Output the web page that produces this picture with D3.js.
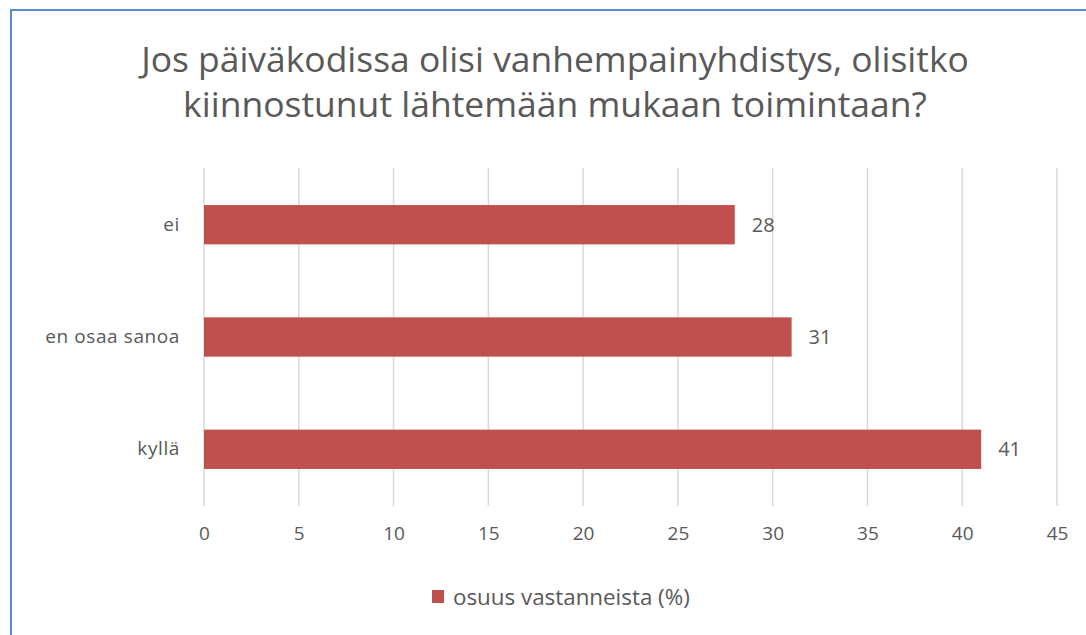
<!DOCTYPE html>
<html>
<head>
<meta charset="utf-8">
<script src="https://cdn.jsdelivr.net/npm/d3@7"></script>
<style>
  body { margin: 0; background: #fff; }
  svg { display: block; font-family: "Open Sans", "Liberation Sans", sans-serif; }
</style>
</head>
<body>
<svg id="canvas" width="1086" height="635"></svg>
<script>
// chart data
let titleLines = ['Jos päiväkodissa olisi vanhempainyhdistys, olisitko', 'kiinnostunut lähtemään mukaan toimintaan?'];
let categories = ['ei', 'en osaa sanoa', 'kyllä'];
let values = [28, 31, 41];
let ticks = [0, 5, 10, 15, 20, 25, 30, 35, 40, 45];
let seriesName = 'osuus vastanneista (%)';

let canvas = d3.select('#canvas');

let textColor = '#595959';
let barColor = '#C0504D';
let fontFamily = '"Open Sans", "Liberation Sans", sans-serif';

// shrink/grow a text node's font size so it spans the given width
let fitWidth = (sel, base, width) => {
    sel.attr('font-size', base);
    let w = sel.node().getComputedTextLength();
    sel.attr('font-size', base * width / w);
};

// frame
canvas.append('rect')
    .attr('x', 11).attr('y', 10)
    .attr('width', 1200).attr('height', 800)
    .attr('fill', 'none')
    .attr('stroke', '#5B8BD0')
    .attr('stroke-width', 2);

// title
let titleWidths = [828, 744];
titleLines.forEach((line, i) => {
    let t = canvas.append('text')
        .attr('x', 555)
        .attr('y', 72 + i * 45)
        .attr('text-anchor', 'middle')
        .attr('fill', textColor)
        .text(line);
    fitWidth(t, 30, titleWidths[i]);
});

let x = d3.scaleLinear()
    .domain([0, 45])
    .range([204, 1057]);

let y = d3.scaleBand()
    .domain(categories)
    .range([168, 506])
    .paddingInner(0.65)
    .paddingOuter(0.33);

// gridlines
canvas.append('g')
    .selectAll('line')
    .data(ticks)
    .enter()
    .append('line')
    .attr('x1', (d) => x(d)).attr('x2', (d) => x(d))
    .attr('y1', 168).attr('y2', 506)
    .attr('stroke', '#D9D9D9')
    .attr('stroke-width', 1.5);

// x axis tick labels
let xAxis = d3.axisBottom(x).tickValues(ticks).tickSize(0).tickPadding(0);
let gx = canvas.append('g')
    .attr('transform', 'translate(0, 526)')
    .call(xAxis);
gx.select('.domain').remove();
gx.selectAll('text')
    .attr('fill', textColor)
    .attr('font-size', 19)
    .attr('font-family', fontFamily);

// category labels
let yAxis = d3.axisLeft(y).tickSize(0).tickPadding(24);
let gy = canvas.append('g')
    .attr('transform', 'translate(204, 0)')
    .call(yAxis);
gy.select('.domain').remove();
gy.selectAll('text')
    .attr('fill', textColor)
    .attr('font-size', 19)
    .attr('letter-spacing', 0.6)
    .attr('font-family', fontFamily);

// bars
canvas.append('g')
    .selectAll('rect')
    .data(values)
    .enter()
    .append('rect')
    .attr('x', x(0))
    .attr('y', (d, i) => y(categories[i]))
    .attr('width', (d) => x(d) - x(0))
    .attr('height', y.bandwidth())
    .attr('fill', barColor);

// value labels
canvas.append('g')
    .selectAll('text')
    .data(values)
    .enter()
    .append('text')
    .attr('x', (d) => x(d) + 17)
    .attr('y', (d, i) => y(categories[i]) + y.bandwidth() / 2)
    .attr('dy', '0.36em')
    .attr('fill', textColor)
    .attr('font-size', 20)
    .text((d) => d);

// legend
canvas.append('rect')
    .attr('x', 432).attr('y', 590)
    .attr('width', 12).attr('height', 13)
    .attr('fill', barColor);
let legendText = canvas.append('text')
    .attr('x', 453).attr('y', 597)
    .attr('dy', '0.35em')
    .attr('fill', textColor)
    .text(seriesName);
fitWidth(legendText, 19, 237);
</script>
</body>
</html>
